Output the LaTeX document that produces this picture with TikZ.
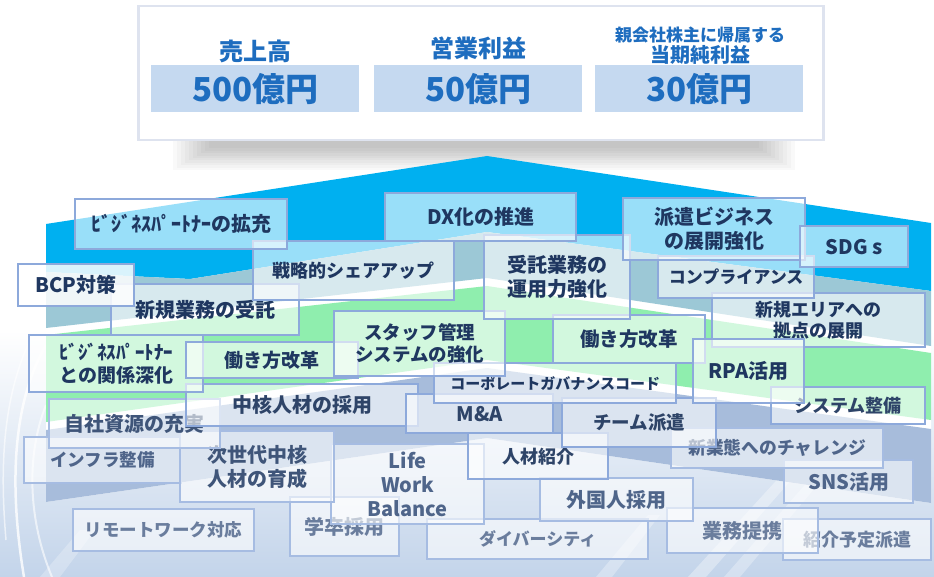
\documentclass[tikz,border=0pt]{standalone}
\usepackage{fontspec}
\setmainfont{Noto Sans CJK JP}
\definecolor{roofblue}{HTML}{00B0F0}
\definecolor{teal}{HTML}{9CC8D6}
\definecolor{bandgreen}{HTML}{8FEEAE}
\definecolor{bandgray}{HTML}{A7BCDB}
\definecolor{bgbottom}{HTML}{C3D4EA}
\definecolor{bordA}{HTML}{8DA9DB}
\definecolor{bordB}{HTML}{A6BCE2}
\definecolor{topborder}{HTML}{DEE3EF}
\definecolor{valfill}{HTML}{C5D9F0}
\definecolor{valtext}{HTML}{1E6DBF}
\definecolor{tA}{HTML}{1F3760}
\definecolor{tB}{HTML}{2E4468}
\definecolor{tC}{HTML}{3F5579}
\definecolor{tD}{HTML}{4F658A}
\definecolor{tE}{HTML}{6A7D9D}
\tikzset{
  tbox/.style={draw=bordA, line width=2.4pt, fill=white, fill opacity=0.6,
    text opacity=1, inner sep=0pt, align=center, text=tA},
  gA/.style={text=tA},
  gB/.style={text=tB},
  gC/.style={text=tC, draw=bordB},
  gD/.style={text=tD, draw=bordB},
  gE/.style={text=tE, draw=bordB},
  valbox/.style={fill=valfill, draw=none, inner sep=0pt, text=valtext,
    minimum width=208, minimum height=47, anchor=north west,
    font=\bfseries\fontsize{33}{38}\selectfont},
  ttl/.style={text=valtext, inner sep=0pt}
}
\newcommand\tb[8]{\node[tbox,#6,anchor=north west,minimum width={#4-#2},minimum height={#5-#3},font=\bfseries\fontsize{#7}{1.2\dimexpr#7pt\relax}\selectfont] (#1) at (#2,#3) {#8};}
\begin{document}
\begin{tikzpicture}[x=1pt,y=-1pt]
\useasboundingbox (0,0) rectangle (934,577);
% background
\fill[white] (0,0) rectangle (934,577);
\shade[top color=white, bottom color=bgbottom] (0,330) rectangle (934,577);
% streaks and curves
\fill[white, opacity=.35] (688,577) -- (706,577) -- (800,470) -- (786,470) -- cycle;
\fill[white, opacity=.30] (724,577) -- (740,577) -- (830,470) -- (818,470) -- cycle;
\fill[white, opacity=.30] (596,577) -- (612,577) -- (660,515) -- (648,515) -- cycle;
\fill[white, opacity=.25] (40,577) -- (60,577) -- (95,530) -- (80,530) -- cycle;
\draw[white, line width=2.5, opacity=.8] (46,345) .. controls (14,400) and (8,480) .. (24,577);
\draw[white, line width=2, opacity=.6] (46,405) .. controls (26,455) and (28,520) .. (52,577);
\draw[white, line width=1.5, opacity=.6] (30,340) .. controls (2,400) and (0,470) .. (6,540);
% shadow under top box
\foreach \i in {0,...,9} \fill[black,opacity=0.024] (173+\i*4,140) rectangle (795-\i*4,170-\i*2.4);
% roof bands
\fill[white] (46,272) -- (487,232) -- (931,291) -- (931,503) -- (487,438) -- (46,502) -- cycle;
\fill[roofblue] (46,224) -- (487,156) -- (931,223) -- (931,291) -- (487,232) -- (190,279) -- (46,272) -- cycle;
\fill[teal] (46,272) -- (190,279) -- (487,232) -- (931,291) -- (931,346) -- (487,278) -- (46,328) -- cycle;
\fill[bandgreen] (46,335) -- (487,286) -- (931,353) -- (931,420) -- (487,360) -- (46,422) -- cycle;
\fill[bandgray] (46,430) -- (487,368) -- (931,429) -- (931,503) -- (487,438) -- (46,502) -- cycle;
% top box
\node[draw=topborder, line width=2.5pt, fill=white, inner sep=0pt, minimum width=685, minimum height=134, anchor=north west] (topbox) at (137,5) {};
\node[valbox] (v1) at (151,65) {500億円};
\node[valbox] (v2) at (374,65) {50億円};
\node[valbox] (v3) at (595,65) {30億円};
\node[ttl, font=\bfseries\fontsize{24}{28}\selectfont] (t1) at (255,51) {売上高};
\node[ttl, font=\bfseries\fontsize{24}{28}\selectfont] (t2) at (478,48) {営業利益};
\node[ttl, font=\bfseries\fontsize{17}{20}\selectfont] (t3a) at (700,35) {親会社株主に帰属する};
\node[ttl, font=\bfseries\fontsize{20}{24}\selectfont] (t3b) at (700,55) {当期純利益};
% boxes, back to front
\tb{b1}{782}{518}{930}{559}{gE}{18}{紹介予定派遣}
\tb{b2}{666}{507}{817}{552}{gE}{20}{業務提携}
\tb{b3}{426}{518}{647}{558}{gE}{17}{ダイバーシティ}
\tb{b4}{72}{508}{253}{550}{gE}{17.5}{リモートワーク対応}
\tb{b5}{289}{496}{398}{555}{gE}{20}{学卒採用}
\tb{b6}{539}{477}{692}{520}{gD}{20}{外国人採用}
\tb{b7}{783}{459}{912}{502}{gD}{20}{SNS活用}
\tb{b8}{670}{427}{882}{467}{gD}{17.8}{新業態へのチャレンジ}
\tb{b9}{330}{443}{483}{523}{gD}{20}{Life\\Work\\Balance}
\tb{b10}{467}{432}{607}{478}{gB}{18}{人材紹介}
\tb{b11}{23}{436}{180}{482}{gD}{17.5}{インフラ整備}
\tb{b12}{179}{430}{333}{501}{gC}{20}{次世代中核\\人材の育成}
\tb{b13}{48}{398}{219}{447}{gC}{20}{自社資源の充実}
\tb{b14}{185}{383}{417}{425}{gB}{20}{中核人材の採用}
\tb{b15}{405}{393}{552}{432}{gB}{20}{M\&A}
\tb{b16}{561}{397}{715}{446}{gB}{18.5}{チーム派遣}
\tb{b17}{770}{386}{924}{423}{gB}{18}{システム整備}
\tb{b18}{433}{362}{675}{402}{gA}{15}{コーポレートガバナンスコード}
\tb{b19}{28}{334}{202}{391}{gA}{19}{ﾋﾞｼﾞﾈｽﾊﾟｰﾄﾅｰ\\との関係深化}
\tb{b20}{185}{341}{357}{377}{gA}{19}{働き方改革}
\tb{b21}{333}{310}{504}{375}{gA}{18.5}{スタッフ管理\\システムの強化}
\tb{b22}{552}{314}{704}{362}{gA}{19.5}{働き方改革}
\tb{b23}{711}{292}{924}{346}{gA}{18}{新規エリアへの\\拠点の展開}
\tb{b24}{692}{338}{803}{402}{gA}{20}{RPA活用}
\tb{b25}{110}{283}{298}{334}{gA}{20}{新規業務の受託}
\tb{b26}{17}{263}{133}{305}{gA,fill opacity=0.85}{20}{BCP対策}
\tb{b27}{483}{234}{629}{318}{gA}{20}{受託業務の\\運用力強化}
\tb{b28}{657}{255}{813}{297}{gA}{17}{コンプライアンス}
\tb{b29}{252}{240}{453}{299}{gA}{18}{戦略的シェアアップ}
\tb{b30}{74}{198}{286}{248}{gA}{20}{ﾋﾞｼﾞﾈｽﾊﾟｰﾄﾅｰの拡充}
\tb{b31}{384}{192}{575}{240}{gA}{20}{DX化の推進}
\tb{b32}{622}{197}{804}{259}{gA}{20}{派遣ビジネス\\の展開強化}
\tb{b33}{799}{225}{907}{266}{gA}{20}{SDG s}
\end{tikzpicture}
\end{document}
